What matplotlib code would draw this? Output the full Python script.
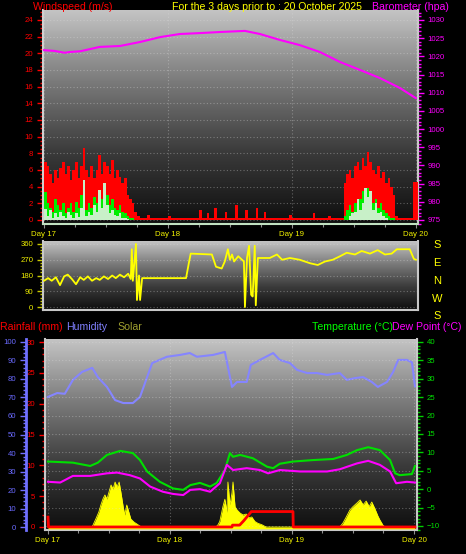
import numpy as np
import matplotlib
matplotlib.use('Agg')
import matplotlib.pyplot as plt
from matplotlib.colors import LinearSegmentedColormap
from matplotlib.ticker import MultipleLocator, FixedLocator

plt.rcParams['font.family'] = ['Liberation Sans', 'DejaVu Sans']

# ---------------- data ----------------
day_labels = ['Day 17', 'Day 18', 'Day 19', 'Day 20']
day_hours = [0, 24, 48, 72]

# wind, half-hourly bars (hours from start of Day 17)
gust = ([7.0, 6.5, 5.5, 4.5, 6.0, 5.0, 6.2, 7.0, 5.5, 6.5, 4.8, 6.0, 7.0, 5.0, 6.5, 8.6, 6.0, 5.2,
         6.5, 5.0, 6.0, 7.8, 5.5, 7.0, 6.5, 5.5, 7.2, 5.0, 6.0, 5.2, 4.5, 5.0, 3.0, 2.5, 2.0, 1.0]
        + [0.5, 0.3, 0.3, 0.3, 0.6, 0.3, 0.3, 0.3, 0.3, 0.3, 0.3, 0.3, 0.5, 0.3, 0.3, 0.3, 0.3, 0.3,
           0.3, 0.3, 0.3, 0.3, 0.3, 0.3, 1.2, 0.3, 0.3, 0.8, 0.3, 0.3, 1.5, 0.3, 0.3, 0.3, 1.0, 0.3,
           0.3, 0.3, 1.8, 0.3, 0.3, 0.3, 1.2, 0.3, 0.3, 0.3, 1.5, 0.3, 0.3, 1.0, 0.3, 0.3, 0.3, 0.3,
           0.3, 0.3, 0.3, 0.3, 0.3, 0.6, 0.3, 0.3, 0.3, 0.3, 0.3, 0.3, 0.3, 0.3, 0.8, 0.3, 0.3, 0.3,
           0.3, 0.3, 0.5, 0.3, 0.3, 0.3, 0.3]
        + [0.3, 4.5, 5.5, 6.0, 5.0, 6.5, 7.0, 6.0, 7.5, 6.5, 8.2, 7.0, 6.0, 5.5, 6.5, 5.0, 5.8, 4.5,
           5.0, 4.0, 3.0, 0.5, 0.3, 0.3, 0.3, 0.3, 0.3, 0.3, 4.6, 4.6])
speed = ([3.4, 2.0, 1.5, 1.0, 2.5, 1.8, 1.2, 2.0, 0.8, 1.5, 2.0, 1.0, 2.2, 1.5, 3.0, 2.5, 1.2, 2.0,
          1.5, 2.8, 2.0, 3.2, 2.5, 2.0, 3.0, 1.8, 2.5, 1.5, 1.2, 1.8, 1.0, 0.8, 0.5, 0.3, 0.2, 0.0]
         + [0.0] * 80
         + [0.5, 1.2, 1.8, 1.0, 2.0, 1.5, 2.5, 3.5, 2.2, 3.8, 3.0, 2.0, 2.5, 1.5, 2.0, 1.2, 0.8, 0.5,
            0.3, 0.2]
         + [0.0] * 9)
avg = ([1.3, 0.5, 1.2, 0.3, 0.8, 0.4, 1.0, 0.5, 0.3, 1.0, 0.6, 0.2, 0.8, 0.4, 1.5, 4.8, 0.5, 1.0,
        0.6, 1.8, 1.0, 3.6, 1.5, 4.5, 1.8, 0.8, 1.2, 0.6, 0.5, 0.8, 0.3, 0.2, 0.1, 0.0, 0.0, 0.0]
       + [0.0] * 82
       + [0.5, 0.8, 1.0, 2.5, 1.2, 2.0, 3.8, 2.8, 3.5, 1.2, 2.0, 0.8, 1.0, 0.5, 0.3]
       + [0.0] * 12)
wind_hours = [i * 0.5 for i in range(len(gust))]

baro_hours = [0, 2, 4, 5, 7, 10.8, 14.7, 18.6, 22.5, 26.3, 30.2, 34.1, 38.9, 41.8, 45.7, 49.5,
              53.4, 57.3, 61.2, 65.0, 68.9, 72.0]
baro = [1021.7, 1021.5, 1021.0, 1021.2, 1021.4, 1022.6, 1022.85, 1023.95, 1025.3, 1026.15,
        1026.4, 1026.7, 1027.0, 1026.15, 1024.5, 1023.1, 1021.2, 1018.45, 1016.25, 1014.05,
        1011.3, 1008.5]

dir_hours = [0, 0.8, 1.5, 2.3, 3.1, 3.9, 4.6, 5.4, 6.2, 7.0, 7.7, 8.5, 9.3, 10.1, 10.8, 11.6,
             12.4, 13.2, 13.9, 14.7, 15.5, 16.3, 16.8, 17.0, 17.2, 17.8, 18.0, 18.4, 18.6, 19.0,
             27.5, 28.1, 28.4, 32.5, 33.3, 34.4, 35.0, 35.6, 36.0, 36.4, 36.8, 37.6, 38.7, 38.9,
             39.3, 39.7, 40.1, 40.4, 40.8, 41.0, 41.4, 43.7, 45.1, 46.1, 47.6, 49.5, 51.5, 53.0,
             54.4, 55.9, 57.3, 58.6, 60.2, 61.5, 63.1, 64.6, 66.0, 67.3, 68.3, 70.8, 71.6, 72.0]
dir_deg = [150, 165, 150, 170, 125, 175, 185, 160, 130, 170, 155, 175, 150, 165, 155, 175, 160,
           180, 165, 185, 170, 190, 160, 330, 150, 360, 40, 180, 40, 165, 165, 260, 305, 300, 230,
           220, 260, 330, 270, 300, 260, 290, 260, 0, 280, 350, 70, 60, 350, 10, 280, 280, 300,
           270, 280, 270, 250, 240, 260, 270, 290, 310, 300, 320, 305, 325, 300, 305, 330, 330,
           275, 270]
compass = ['S', 'E', 'N', 'W', 'S']

hum_hours = [0, 1.8, 3.3, 4.9, 6.7, 8.7, 9.8, 11.6, 13.2, 14.8, 16.7, 18.1, 19.5, 20.5, 23.4,
             26.0, 27.9, 29.3, 32.5, 34.8, 35.4, 36.2, 37.2, 39.1, 39.9, 41.7, 44.3, 45.6, 47.6,
             49.0, 51.0, 52.9, 54.9, 57.4, 58.8, 60.4, 62.0, 63.7, 64.9, 66.7, 67.9, 68.9, 70.6,
             71.6, 72.2]
humidity = [70.3, 72.4, 72, 79.5, 83.8, 86, 81, 75.7, 68.6, 67, 67, 70.3, 81, 88.6, 92, 93, 94,
            92, 93, 94.6, 86.5, 75.7, 78.4, 78.4, 87.6, 90.3, 94, 90.3, 88.6, 84.9, 83.2, 83.2,
            82.2, 83.2, 79.5, 80.5, 81, 78.4, 75.7, 78.4, 83.8, 90.3, 90.3, 89.0, 76]

temp_hours = [0, 4.9, 8.3, 9.8, 11.6, 14.2, 16.7, 18.1, 19.5, 22.0, 24.6, 26.6, 28.0, 29.9, 31.9,
              33.2, 34.8, 35.8, 36.4, 37.8, 40.3, 43.1, 44.3, 45.6, 48.2, 52.1, 56.1, 58.8, 60.8,
              63.0, 65.3, 67.3, 68.3, 69.2, 71.6, 72.2]
temperature = [7.5, 7.2, 6.3, 7.2, 9.3, 10.4, 9.8, 7.9, 4.8, 2.0, 0.2, -0.2, 1.1, 1.7, 0.7, 1.7,
               5.2, 9.8, 8.8, 9.3, 8.4, 6.1, 5.7, 6.9, 7.5, 7.9, 8.2, 9.3, 10.6, 11.4, 10.6, 7.9,
               4.3, 3.8, 4.1, 6.3]

dew_hours = [0, 2.4, 4.9, 8.3, 11.6, 13.6, 16.1, 18.1, 20.1, 22.6, 24.6, 26.6, 28.0, 29.9, 31.9,
             33.8, 35.2, 36.4, 39.1, 41.7, 43.3, 45.6, 49.6, 54.9, 57.4, 60.8, 63.0, 65.3, 67.3,
             68.5, 70.6, 72.2]
dewpoint = [2.0, 1.8, 3.6, 3.6, 4.3, 4.5, 3.8, 2.9, 0.7, -0.7, -1.3, -1.6, -0.2, 0, -0.7, 1.6,
            6.6, 5.2, 5.7, 5.2, 4.3, 5.2, 4.8, 4.8, 5.4, 7.0, 7.7, 6.6, 4.8, 1.6, 2.0, 1.8]

solar_hours = [0, 8.6, 8.85, 9.4, 10.0, 10.4, 10.8, 11.2, 11.6, 12.0, 12.4, 12.8, 13.2, 13.6,
               14.0, 14.4, 14.8, 15.1, 15.5, 15.9, 16.3, 16.9, 17.5, 18.1, 18.4,
               33.0, 33.4, 33.8, 34.4, 34.8, 35.2, 35.4, 35.8, 36.2, 36.4, 36.8, 37.2, 37.8, 38.4,
               39.0, 39.5, 40.1, 40.7, 41.3, 42.1, 42.9,
               57.4, 58.0, 58.6, 59.4, 60.0, 60.8, 61.4, 62.0, 62.6, 63.2, 63.7, 64.3, 64.9, 65.3,
               65.9, 66.3, 72.2]
solar = [0, 0, 10, 43, 81, 119, 151, 173, 151, 189, 227, 205, 243, 216, 243, 178, 108, 65, 119,
         81, 43, 27, 16, 5, 0,
         0, 10, 30, 108, 150, 80, 243, 120, 184, 243, 110, 92, 75, 65, 70, 50, 54, 30, 20, 12, 0,
         0, 20, 50, 92, 110, 130, 146, 120, 140, 110, 135, 100, 60, 38, 10, 0, 0]

rain_hours = [0, 0.1, 36.2, 36.3, 37.7, 38.5, 39.3, 40.0, 48.2, 48.25, 72.2]
rainfall = [1.6, 0, 0, 0.3, 0.3, 1.0, 1.8, 2.5, 2.5, 0, 0]

# ---------------- figure ----------------
W, H = 466, 554
fig = plt.figure(figsize=(W / 100, H / 100), dpi=100, facecolor='black')


def box(x0, y0, x1, y1):
    return [x0 / W, 1 - y1 / H, (x1 - x0) / W, (y1 - y0) / H]


grad = LinearSegmentedColormap.from_list('g', ['#0e0e0e', '#3a3a3a', '#7a7a7a', '#c4c4c4'])
PT = 72 / 100.0  # pixels -> points


def background(ax, xlim, ylim):
    ax.set_facecolor('black')
    g = np.linspace(0, 1, 256).reshape(-1, 1)
    ax.imshow(g, cmap=grad, origin='lower', extent=[0, 1, 0, 1], transform=ax.transAxes,
              aspect='auto', zorder=0, interpolation='bilinear')
    ax.set_xlim(*xlim)
    ax.set_ylim(*ylim)
    for s in ['left', 'bottom', 'right']:
        ax.spines[s].set_color('#c8c8c8')
        ax.spines[s].set_linewidth(1.5)
    ax.spines['top'].set_visible(False)


def day_axis(ax, labels=True):
    ax.xaxis.set_major_locator(FixedLocator(day_hours))
    ax.xaxis.set_minor_locator(MultipleLocator(6))
    if labels:
        ax.set_xticklabels(day_labels)
    else:
        ax.set_xticklabels([])
    ax.tick_params(axis='x', which='both', colors='#909090', labelcolor='#f0f000',
                   labelsize=5.7, length=3, width=0.8, pad=2)
    ax.tick_params(axis='x', which='minor', length=2)
    for lab in ax.get_xticklabels():
        lab.set_color('#f0f000')


grid_kw = dict(color='#e0e0e0', alpha=0.35, linestyle=(0, (1, 2)), linewidth=0.8)

# ---------------- top panel: wind + barometer ----------------
ax1 = fig.add_axes(box(43, 10, 418, 224))
background(ax1, (-0.19, 72.4), (-0.48, 25.2))
ax1.bar(wind_hours, gust, width=0.5, align='edge', color='#ff0000', linewidth=0, zorder=3)
ax1.bar(wind_hours, speed, width=0.5, align='edge', color='#00ee00', linewidth=0, zorder=4)
ax1.bar(wind_hours, avg, width=0.5, align='edge', color='#c8f0c8', linewidth=0, zorder=5)
ax1.yaxis.set_major_locator(MultipleLocator(2))
ax1.yaxis.set_minor_locator(MultipleLocator(0.5))
ax1.tick_params(axis='y', which='both', colors='#ff0000', labelsize=5.6, length=4,
                width=1, pad=3)
ax1.tick_params(axis='y', which='minor', length=2)
ax1.spines['left'].set_color('#d0d0d0')
ax1.spines['bottom'].set_color('#c0e0c0')
ax1.grid(axis='y', which='major', **grid_kw)
ax1.grid(axis='x', which='major', **grid_kw)
day_axis(ax1, True)

ax1b = ax1.twinx()
ax1b.plot(baro_hours, baro, color='#ff00ff', lw=1.5, zorder=6)
ax1b.set_ylim(973.9, 1032.75)
ax1b.yaxis.set_major_locator(MultipleLocator(5))
ax1b.yaxis.set_minor_locator(MultipleLocator(1))
ax1b.tick_params(axis='y', which='both', colors='#ff00ff', labelsize=5.6, length=4,
                 width=1, pad=3)
ax1b.tick_params(axis='y', which='minor', length=2)
for s in ['left', 'top', 'bottom']:
    ax1b.spines[s].set_visible(False)
ax1b.spines['right'].set_color('#c8c8c8')

fig.text(33 / W, 1 - 9.5 / H, 'Windspeed (m/s)', color='#ff0000', fontsize=7.6, va='baseline')
fig.text(171.5 / W, 1 - 9.5 / H, 'For the 3 days prior to : 20 October 2025', color='#ffff00',
         fontsize=7.6, va='baseline')
fig.text(372 / W, 1 - 9.5 / H, 'Barometer (hpa)', color='#ff00ff', fontsize=7.6, va='baseline')

# ---------------- middle panel: wind direction ----------------
ax2 = fig.add_axes(box(43, 241, 418, 310))
background(ax2, (-0.19, 72.4), (-17, 377))
ax2.plot(dir_hours, dir_deg, color='#ffff00', lw=1.3, zorder=3)
ax2.yaxis.set_major_locator(FixedLocator([0, 90, 180, 270, 360]))
ax2.yaxis.set_minor_locator(MultipleLocator(18))
ax2.tick_params(axis='y', which='both', colors='#c8c800', labelcolor='#f0f000', labelsize=5.6,
                length=4, width=1, pad=3)
ax2.tick_params(axis='y', which='minor', length=2)
ax2.grid(axis='y', which='major', **grid_kw)
ax2.grid(axis='x', which='major', **grid_kw)
ax2.set_xticks([])
for lab, yy in zip(compass, [245, 263, 281, 299, 316]):
    fig.text(437 / W, 1 - yy / H, lab, color='#ffff00', fontsize=8, ha='center', va='center')

# ---------------- bottom panel ----------------
BX = (-0.59, 72.6)
ax3 = fig.add_axes(box(45, 339, 417, 530))
background(ax3, BX, (-0.49, 30.49))
ax3.yaxis.set_major_locator(MultipleLocator(5))
ax3.yaxis.set_minor_locator(MultipleLocator(1))
ax3.tick_params(axis='y', which='both', colors='#ff0000', labelsize=5.6, length=4,
                width=1, pad=3)
ax3.tick_params(axis='y', which='minor', length=2)
ax3.grid(axis='x', which='major', **grid_kw)
day_axis(ax3, True)

# solar (hidden axis)
ax3s = ax3.twinx()
ax3s.fill_between(solar_hours, -10, solar, color='#ffff00', linewidth=0)
ax3s.plot(solar_hours, solar, color='#ffff00', lw=0.6)
ax3s.set_ylim(-16.2, 1016)
ax3s.axis('off')

# humidity (offset left axis)
ax3h = ax3.twinx()
ax3h.plot(hum_hours, humidity, color='#8585ff', lw=1.5)
ax3h.set_ylim(-1.6, 101.6)
ax3h.yaxis.tick_left()
for s in ['right', 'top', 'bottom']:
    ax3h.spines[s].set_visible(False)
ax3h.spines['left'].set_position(('outward', 19 * PT))
ax3h.spines['left'].set_color('#7070ff')
ax3h.spines['left'].set_linewidth(2)
ax3h.yaxis.set_major_locator(MultipleLocator(10))
ax3h.yaxis.set_minor_locator(MultipleLocator(2))
ax3h.tick_params(axis='y', which='both', colors='#7070ff', labelcolor='#6a6aff',
                 labelsize=5.6, length=4, width=1, pad=3)
ax3h.tick_params(axis='y', which='minor', length=2)

# temperature / dew point (right axis)
ax3t = ax3.twinx()
ax3t.plot(temp_hours, temperature, color='#00e000', lw=1.5)
ax3t.plot(dew_hours, dewpoint, color='#ff00ff', lw=1.5)
ax3t.set_ylim(-11.1, 40.8)
ax3t.yaxis.set_major_locator(MultipleLocator(5))
ax3t.yaxis.set_minor_locator(MultipleLocator(1))
ax3t.tick_params(axis='y', which='both', colors='#00d000', labelcolor='#00e000',
                 labelsize=5.6, length=4, width=1, pad=3)
ax3t.tick_params(axis='y', which='minor', length=2)
ax3t.grid(axis='y', which='major', **grid_kw)
for s in ['left', 'top', 'bottom']:
    ax3t.spines[s].set_visible(False)
ax3t.spines['right'].set_color('#c8c8c8')

# rainfall line on top
ax3r = ax3.twinx()
ax3r.plot(rain_hours, rainfall, color='#ff0000', lw=2)
ax3r.set_ylim(-0.49, 30.49)
ax3r.axis('off')
for a in (ax3s, ax3h, ax3t, ax3r):
    a.set_xlim(*BX)

ty = 1 - 330 / H
fig.text(0 / W, ty, 'Rainfall (mm)', color='#ff0000', fontsize=7.6, va='baseline')
fig.text(66.5 / W, ty, 'Humidity', color='#8080ff', fontsize=7.6, va='baseline')
fig.text(117 / W, ty, 'Solar', color='#a0a030', fontsize=7.6, va='baseline')
fig.text(312.5 / W, ty, 'Temperature (\u00b0C)', color='#00ff00', fontsize=7.6, va='baseline')
fig.text(392 / W, ty, 'Dew Point (\u00b0C)', color='#ff00ff', fontsize=7.6, va='baseline')

fig.savefig('out.png', dpi=100, facecolor='black')
